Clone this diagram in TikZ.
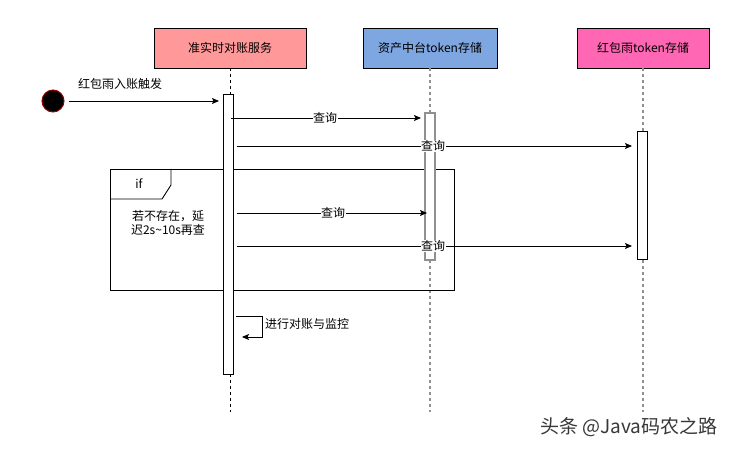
\documentclass[tikz,border=0pt]{standalone}
\usepackage{fontspec}
\setmainfont{Noto Sans CJK SC}
\usetikzlibrary{arrows.meta}
\definecolor{hdrA}{HTML}{FF9999}
\definecolor{hdrB}{HTML}{7EA6E0}
\definecolor{hdrC}{HTML}{FF66B3}
\definecolor{lifegray}{HTML}{909090}
\definecolor{startred}{HTML}{990000}
\begin{document}
\begin{tikzpicture}[x=1pt,y=-1pt,
  font=\fontsize{12}{14.5}\selectfont,
  hdr/.style={draw=black,line width=0.9pt,minimum width=#1,minimum height=40pt,inner sep=0pt},
  lifeA/.style={draw=black,line width=0.7pt,dash pattern=on 3pt off 3pt},
  lifeB/.style={draw=lifegray,line width=1.4pt,dash pattern=on 3pt off 3pt},
  actbox/.style={draw=black,fill=white,line width=0.9pt},
  actgray/.style={draw=lifegray,fill=white,line width=1.4pt},
  msg/.style={draw=black,line width=0.9pt,-{Stealth[length=7pt,width=6pt,inset=1.5pt]}},
  msglbl/.style={fill=white,inner sep=0.5pt},
  txt/.style={inner sep=0pt}
]
\useasboundingbox (0,0) rectangle (733,449);
\fill[white] (0,0) rectangle (733,449);

% headers
\node[hdr=152pt,fill=hdrA] (h1) at (230,48) {准实时对账服务};
\node[hdr=134pt,fill=hdrB] (h2) at (430,48) {资产中台token存储};
\node[hdr=132pt,fill=hdrC] (h3) at (643,48) {红包雨token存储};

% lifeline ends
\coordinate (e1) at (230,412);
\coordinate (e2) at (430,412);
\coordinate (e3) at (643,412);
\draw[lifeA] (h1.south) -- (e1);
\draw[lifeB] (h2.south) -- (e2);
\draw[lifeB] (h3.south) -- (e3);

% if frame
\draw[line width=0.9pt] (110,169) rectangle (454,290);
\draw[line width=0.9pt] (110,199) -- (162,199) -- (171,185) -- (171,169);
\node[txt] (iflbl) at (139,184) {if};
\node[txt,align=center] (cond) at (168,223) {若不存在，延\\迟2s\textasciitilde10s再查};

% activation bars
\draw[actbox] (223,94) rectangle (233,374);
\draw[actgray] (425,113) rectangle (435,260);
\draw[actbox] (637,131) rectangle (647,259);
\coordinate (b1L) at (219,101);

% start
\node[circle,fill=black,draw=startred,line width=1pt,minimum size=22pt,inner sep=0pt] (start) at (53,101) {};
\node[txt] (startlbl) at (120,84) {红包雨入账触发};
\draw[msg] (start.east) ++(4,0) coordinate (s0) (s0) -- (b1L);

% messages
\coordinate (q1a) at (231,118); \coordinate (q1b) at (421,118);
\coordinate (q2a) at (237,146); \coordinate (q2b) at (632,146);
\coordinate (q3a) at (237,213); \coordinate (q3b) at (427,213);
\coordinate (q4a) at (237,246); \coordinate (q4b) at (632,246);
\draw[msg] (q1a) -- (q1b);
\draw[msg] (q2a) -- (q2b);
\draw[msg] (q3a) -- (q3b);
\draw[msg] (q4a) -- (q4b);
\node[msglbl] (l1) at (325,118) {查询};
\node[msglbl] (l2) at (433,146) {查询};
\node[msglbl] (l3) at (333,213) {查询};
\node[msglbl] (l4) at (433,246) {查询};

% self message
\coordinate (sa) at (236,316);
\coordinate (sb) at (262,316);
\coordinate (sc) at (262,337);
\coordinate (sd) at (242,337);
\draw[msg] (sa) -- (sb) -- (sc) -- (sd);
\node[txt,anchor=west] (selflbl) at (265,324) {进行对账与监控};

% watermark
\node[txt,anchor=west,text=black!78,font=\fontsize{19}{22}\selectfont] (wm) at (540,427) {头条 @Java码农之路};
\end{tikzpicture}
\end{document}
